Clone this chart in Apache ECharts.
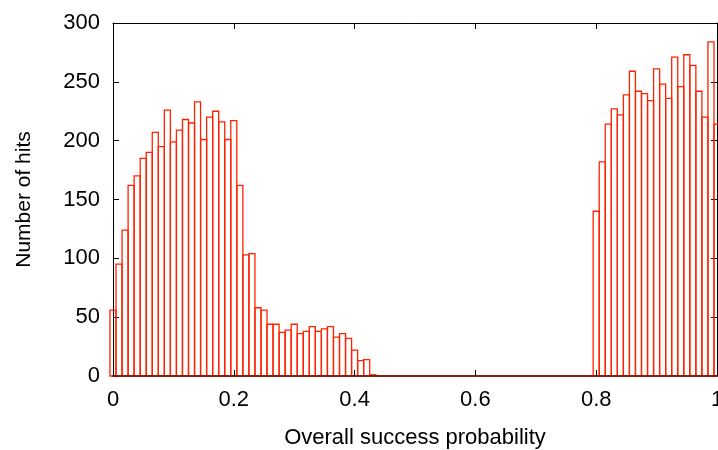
<!DOCTYPE html>
<html>
<head>
<meta charset="utf-8">
<script src="https://cdn.jsdelivr.net/npm/echarts@6/dist/echarts.min.js"></script>
<style>
  html, body { margin: 0; padding: 0; background: #fff; }
  #chart { width: 718px; height: 450px; }
</style>
</head>
<body>
<div id="chart"></div>
<script>
// histogram counts, one per bin of width 0.01 centred on 0, 0.01, ... 1.00
const counts = [
  56, 95, 124, 162, 170, 185, 190, 207, 195, 226,
  199, 209, 218, 215, 233, 201, 220, 225, 216, 201,
  217, 162, 103, 104, 58, 56, 44, 44, 37, 39,
  44, 36, 38, 42, 38, 40, 42, 33, 36, 32,
  22, 13, 14, 1, 0, 0, 0, 0, 0, 0,
  0, 0, 0, 0, 0, 0, 0, 0, 0, 0,
  0, 0, 0, 0, 0, 0, 0, 0, 0, 0,
  0, 0, 0, 0, 0, 0, 0, 0, 0, 0,
  140, 182, 214, 227, 222, 239, 259, 242, 240, 234,
  261, 248, 236, 271, 246, 273, 264, 242, 220, 284,
  214
];
const binWidth = 0.01;
const binCenters = counts.map((_, i) => i * binWidth);

const xTicks = [0, 0.2, 0.4, 0.6, 0.8, 1];
const yTicks = [0, 50, 100, 150, 200, 250, 300];

const xTitle = 'Overall success probability';
const yTitle = 'Number of hits';

const barColor = '#ff2200';
const fontFamily = '"Liberation Sans", Arial, sans-serif';

const chart = echarts.init(document.getElementById('chart'), null, { renderer: 'canvas' });

// gnuplot-like box border: every side has a line and inward ticks
const axisCommon = {
  axisLine: { show: true, onZero: false, lineStyle: { color: '#000', width: 1 } },
  axisTick: { show: true, inside: true, length: 6, lineStyle: { color: '#000' } },
  splitLine: { show: false },
};

const option = {
  animation: false,
  backgroundColor: '#fff',
  grid: {
    left: 113, right: 1, top: 23, bottom: 74,
    containLabel: false,
    outerBoundsMode: 'none',
  },
  xAxis: [
    {
      ...axisCommon,
      type: 'value',
      position: 'bottom',
      z: 5,
      min: xTicks[0],
      max: xTicks[xTicks.length - 1],
      interval: 0.2,
      axisLine: { show: true, onZero: false, lineStyle: { color: '#5a1400', width: 1.5 } },
      axisLabel: { color: '#000', fontSize: 22, fontFamily, margin: 13 },
      name: xTitle,
      nameLocation: 'middle',
      nameGap: 51,
      nameTextStyle: { color: '#000', fontSize: 22, fontFamily },
    },
    {
      ...axisCommon,
      type: 'value',
      position: 'top',
      min: xTicks[0],
      max: xTicks[xTicks.length - 1],
      interval: 0.2,
      axisLabel: { show: false },
    },
  ],
  yAxis: [
    {
      ...axisCommon,
      type: 'value',
      position: 'left',
      min: yTicks[0],
      max: yTicks[yTicks.length - 1],
      interval: 50,
      axisLabel: { color: '#000', fontSize: 22, fontFamily, margin: 13 },
      name: yTitle,
      nameLocation: 'middle',
      nameGap: 78,
      nameRotate: 90,
      nameTextStyle: { color: '#000', fontSize: 21, fontFamily },
    },
    {
      ...axisCommon,
      type: 'value',
      position: 'right',
      min: yTicks[0],
      max: yTicks[yTicks.length - 1],
      interval: 50,
      axisLabel: { show: false },
    },
  ],
  series: [
    {
      type: 'custom',
      xAxisIndex: 0,
      yAxisIndex: 0,
      clip: false,
      data: binCenters.map((x, i) => [x, counts[i]]),
      renderItem: (params, api) => {
        const x = api.value(0);
        const y = api.value(1);
        const p0 = api.coord([x - binWidth / 2, y]);
        const p1 = api.coord([x + binWidth / 2, 0]);
        return {
          type: 'rect',
          shape: { x: p0[0], y: p0[1], width: p1[0] - p0[0], height: p1[1] - p0[1] },
          style: { fill: 'none', stroke: barColor, lineWidth: 1.3 },
        };
      },
    },
  ],
};

chart.setOption(option);
</script>
</body>
</html>
